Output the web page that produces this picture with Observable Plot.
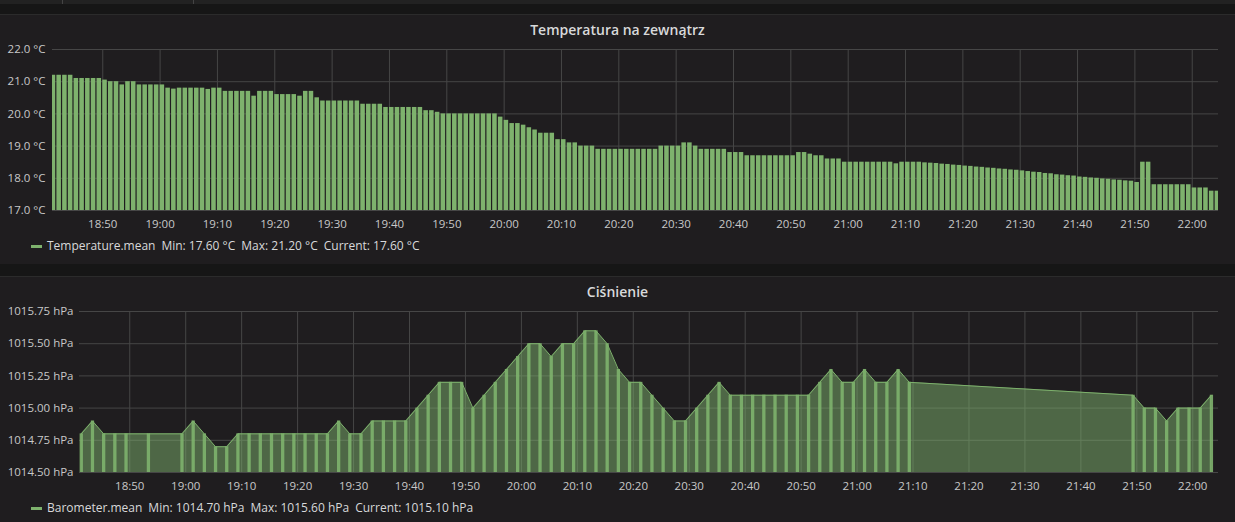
<!DOCTYPE html>
<html><head><meta charset="utf-8">
<script src="https://cdn.jsdelivr.net/npm/d3@7"></script>
<script src="https://cdn.jsdelivr.net/npm/@observablehq/plot@0.6"></script>
<style>
html,body{margin:0;padding:0;background:#161616;width:1235px;height:522px;overflow:hidden;font-family:"Open Sans",sans-serif;position:relative;}
.topbar{position:absolute;left:0;top:0;width:1235px;height:4px;background:#222;}
.topbar div{position:absolute;top:0;width:1px;height:4px;background:#444;}
.panel{position:absolute;left:0;width:1235px;background:#1f1d1f;border-top:1px solid #2b2b2b;box-sizing:border-box;}
.title{position:absolute;left:0;width:1235px;text-align:center;color:#d8d9da;font-size:14px;font-weight:600;line-height:20px;}
.chart{position:absolute;left:0;}
.legend{position:absolute;left:31px;height:16px;font-size:12px;line-height:16px;color:#d8d9da;white-space:pre;display:flex;align-items:center;}
.swatch{width:11px;height:3px;background:#7eb26d;margin-right:5px;}
.legend .v{margin-left:6px;}
</style></head>
<body>
<div class="topbar"><div style="left:62px"></div><div style="left:193px"></div></div>
<div class="panel" style="top:14px;height:250px"></div>
<div class="panel" style="top:276px;height:260px"></div>
<div class="title" style="top:20px">Temperatura na zewnątrz</div>
<div class="title" style="top:282px">Ciśnienie</div>
<div class="chart" id="c1" style="top:40px"></div>
<div class="chart" id="c2" style="top:300px"></div>
<div class="legend" style="top:238px"><span class="swatch"></span><span>Temperature.mean</span><span class="v">Min: 17.60 °C</span><span class="v">Max: 21.20 °C</span><span class="v">Current: 17.60 °C</span></div>
<div class="legend" style="top:500px"><span class="swatch"></span><span>Barometer.mean</span><span class="v">Min: 1014.70 hPa</span><span class="v">Max: 1015.60 hPa</span><span class="v">Current: 1015.10 hPa</span></div>
<script>
// ---- data ----
const xTickLabels = ["18:50","19:00","19:10","19:20","19:30","19:40","19:50","20:00","20:10","20:20","20:30","20:40","20:50","21:00","21:10","21:20","21:30","21:40","21:50","22:00"];
const tempTicks = [17, 18, 19, 20, 21, 22];
const pressTicks = [1014.5, 1014.75, 1015.0, 1015.25, 1015.5, 1015.75];

// Temperature.mean, one value per minute starting 18:41
const tempStart = "18:41:00";
const tempStepMin = 1;
const tempValues = [
  21.2,21.2,21.2,21.2,21.1,21.1,21.1,21.1,21.1,21.05,
  21.0,21.0,20.9,21.0,21.0,20.9,20.9,20.9,20.9,20.9,
  20.8,20.77,20.8,20.8,20.8,20.8,20.8,20.76,20.8,20.8,
  20.7,20.7,20.7,20.7,20.7,20.55,20.7,20.7,20.7,20.6,
  20.6,20.6,20.6,20.55,20.7,20.7,20.5,20.4,20.4,20.4,
  20.4,20.4,20.4,20.4,20.3,20.3,20.3,20.3,20.2,20.2,
  20.2,20.2,20.2,20.2,20.2,20.1,20.1,20.05,20.0,20.0,
  20.0,20.0,20.0,20.0,20.0,20.0,20.0,20.0,19.9,19.8,
  19.7,19.7,19.65,19.57,19.5,19.4,19.4,19.4,19.2,19.2,
  19.1,19.1,19.0,19.0,19.0,18.9,18.9,18.9,18.9,18.9,
  18.9,18.9,18.9,18.9,18.9,18.9,19.0,19.0,19.0,19.0,
  19.1,19.1,19.0,18.9,18.9,18.9,18.9,18.9,18.8,18.8,
  18.8,18.7,18.7,18.7,18.7,18.7,18.7,18.7,18.7,18.7,
  18.8,18.8,18.75,18.7,18.7,18.6,18.6,18.6,18.5,18.5,
  18.5,18.5,18.5,18.5,18.5,18.5,18.5,18.45,18.5,18.5,
  18.5,18.5,18.48,18.47,18.46,18.44,18.43,18.41,18.40,18.38,
  18.37,18.35,18.34,18.32,18.31,18.29,18.28,18.26,18.25,18.23,
  18.21,18.19,18.18,18.15,18.14,18.11,18.10,18.08,18.07,18.04,
  18.03,18.01,18.00,17.98,17.97,17.95,17.94,17.92,17.91,17.87,
  18.5,18.5,17.8,17.8,17.8,17.8,17.8,17.8,17.8,17.7,
  17.7,17.7,17.6,17.6
];

// Barometer.mean, one sample every 2 minutes starting 18:41:20 (null = no data)
const pressStart = "18:41:20";
const pressStepMin = 2;
const pressValues = [
  1014.8,1014.9,1014.8,1014.8,1014.8,null,1014.8,null,null,1014.8,
  1014.9,1014.8,1014.7,1014.7,1014.8,1014.8,1014.8,1014.8,1014.8,1014.8,
  1014.8,1014.8,1014.8,1014.9,1014.8,1014.8,1014.9,1014.9,1014.9,1014.9,
  1015.0,1015.1,1015.2,1015.2,1015.2,1015.0,1015.1,1015.2,1015.3,1015.4,
  1015.5,1015.5,1015.4,1015.5,1015.5,1015.6,1015.6,1015.5,1015.3,1015.2,
  1015.2,1015.1,1015.0,1014.9,1014.9,1015.0,1015.1,1015.2,1015.1,1015.1,
  1015.1,1015.1,1015.1,1015.1,1015.1,1015.1,1015.2,1015.3,1015.2,1015.2,
  1015.3,1015.2,1015.2,1015.3,1015.2,null,null,null,null,null,
  null,null,null,null,null,null,null,null,null,null,
  null,null,null,null,1015.1,1015.0,1015.0,1014.9,1015.0,1015.0,
  1015.0,1015.1
];

// ---- build ----
const parseHM = s => { const [h,m,sec] = s.split(":").map(Number); return new Date(2017,0,1,h,m,sec||0); };
const fmtTime = d3.timeFormat("%H:%M");
const xTicks = xTickLabels.map(parseHM);
const MIN = 60000;
const tempData = tempValues.map((v,i) => ({t: new Date(+parseHM(tempStart) + i*tempStepMin*MIN), v}));
const pressData = pressValues.map((v,i) => ({t: new Date(+parseHM(pressStart) + i*pressStepMin*MIN), v})).filter(d => d.v != null);

const GREEN = "#7eb26d";
const GRID = "#464646";
const style = {background:"transparent", color:"#c8c8c8", fontFamily:"'Open Sans', sans-serif", fontSize:"11.5px", overflow:"visible"};

const c1 = Plot.plot({
  width:1235, height:196, marginTop:9, marginBottom:26, marginLeft:52, marginRight:17,
  style,
  x:{type:"time", domain:[parseHM("18:41:14"), parseHM("22:04:35")], ticks:xTicks, tickFormat:fmtTime, tickSize:0, tickPadding:9, label:null},
  y:{domain:[tempTicks[0], tempTicks[tempTicks.length-1]], ticks:tempTicks, tickFormat:d => d.toFixed(1) + " °C", tickSize:0, tickPadding:7, label:null},
  marks:[
    Plot.gridX(xTicks, {stroke:GRID, strokeOpacity:1}),
    Plot.gridY(tempTicks, {stroke:GRID, strokeOpacity:1}),
    Plot.rectY(tempData, {x1:"t", x2:d => new Date(+d.t + tempStepMin*MIN), y1:tempTicks[0], y2:"v", fill:GREEN, insetRight:1.2, clip:true})
  ]
});
document.getElementById("c1").append(c1);

const c2 = Plot.plot({
  width:1235, height:198, marginTop:11, marginBottom:26, marginLeft:79, marginRight:17,
  style,
  x:{type:"time", domain:[parseHM("18:41:01"), parseHM("22:04:36")], ticks:xTicks, tickFormat:fmtTime, tickSize:0, tickPadding:9, label:null},
  y:{domain:[pressTicks[0], pressTicks[pressTicks.length-1]], ticks:pressTicks, tickFormat:d => d.toFixed(2) + " hPa", tickSize:0, tickPadding:6, label:null},
  marks:[
    Plot.gridX(xTicks, {stroke:GRID, strokeOpacity:1}),
    Plot.gridY(pressTicks, {stroke:GRID, strokeOpacity:1}),
    Plot.areaY(pressData, {x:"t", y1:pressTicks[0], y2:"v", fill:GREEN, fillOpacity:0.5}),
    Plot.ruleX(pressData, {x:"t", y1:pressTicks[0], y2:"v", stroke:GREEN, strokeWidth:3.3, strokeOpacity:0.9}),
    Plot.lineY(pressData, {x:"t", y:"v", stroke:GREEN, strokeWidth:1})
  ]
});
document.getElementById("c2").append(c2);
</script>
</body></html>
